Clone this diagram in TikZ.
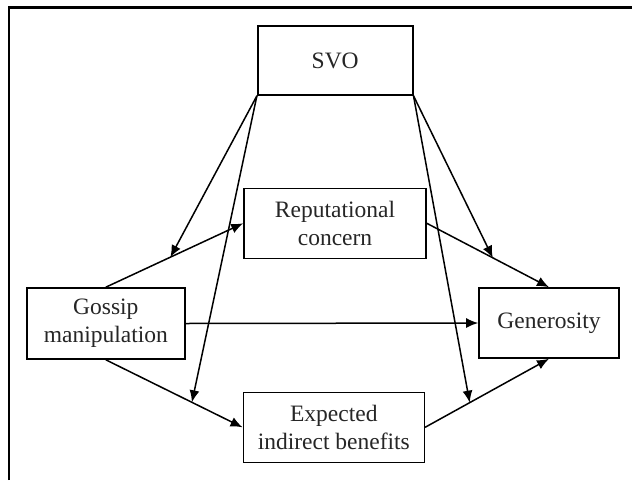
\documentclass[tikz,border=0pt]{standalone}
\usepackage{fontspec}
\setmainfont{Liberation Serif}
\usetikzlibrary{arrows.meta}
\begin{document}
\begin{tikzpicture}[x=1pt,y=-1pt,
  box/.style={draw,line width=1.6pt,rectangle,inner sep=0pt,align=center,
    font=\fontsize{23.5}{28}\selectfont,text=black!85},
  arr/.style={line width=1.5pt,-{Latex[length=12pt,width=10pt]}}]
\useasboundingbox (0,0) rectangle (632,480);
\fill[white] (0,0) rectangle (632,480);
\draw[line width=2.6pt] (9,480) -- (9,7.5) -- (632,7.5);
\node[box,minimum width=155pt,minimum height=69pt] (svo) at (335.2,60.5) {SVO};
\node[box,minimum width=182pt,minimum height=70pt] (rep) at (335,223.3) {Reputational\\concern};
\node[box,minimum width=158pt,minimum height=71pt] (gos) at (105.8,323.5) {Gossip\\manipulation};
\node[box,minimum width=140pt,minimum height=70pt] (gen) at (549,323) {Generosity};
\node[box,minimum width=181pt,minimum height=70pt] (exp) at (333.8,427.3) {Expected\\indirect benefits};
\draw[arr] (gos.north) -- coordinate[pos=0.47] (m1) (rep.west);
\draw[arr] (gos.south) -- coordinate[pos=0.63] (m2) (exp.west);
\draw[arr] (gos.east) -- (gen.west);
\draw[arr] (rep.east) -- coordinate[pos=0.54] (m3) (gen.north);
\draw[arr] (exp.east) -- coordinate[pos=0.36] (m4) (gen.south);
\draw[arr] (svo.south west) -- (m1);
\draw[arr] (svo.south west) -- (m2);
\draw[arr] (svo.south east) -- (m3);
\draw[arr] (svo.south east) -- (m4);
\end{tikzpicture}
\end{document}
